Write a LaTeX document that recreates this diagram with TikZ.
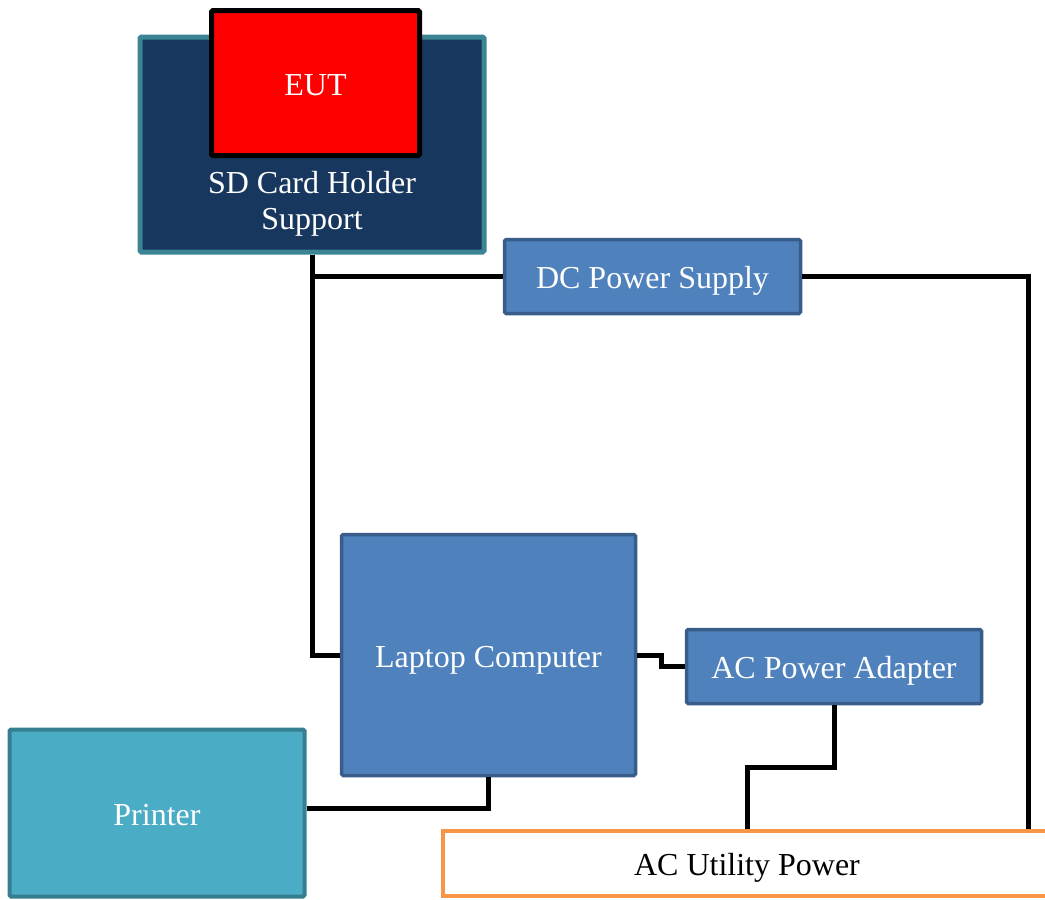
\documentclass[tikz,border=0pt]{standalone}
\usepackage{fontspec}
\setmainfont{Liberation Serif}
\definecolor{sdfill}{HTML}{17375E}
\definecolor{sdline}{HTML}{3B8494}
\definecolor{bluefill}{HTML}{4F81BD}
\definecolor{blueline}{HTML}{385D8A}
\definecolor{prfill}{HTML}{4BACC6}
\definecolor{prline}{HTML}{357F91}
\definecolor{orangeline}{HTML}{F79646}
\definecolor{eutred}{HTML}{FF0000}
\tikzset{
  boxbase/.style={rectangle, inner sep=0pt, rounded corners=1.5pt, font=\fontsize{32}{36}\selectfont, text=white, align=center, text height=27pt, text depth=3pt},
  bluebox/.style={boxbase, fill=bluefill, draw=blueline, line width=3.5pt},
  sdbox/.style={boxbase, fill=sdfill, draw=sdline, line width=5pt},
  eutbox/.style={boxbase, fill=eutred, draw=black, line width=5pt},
  prbox/.style={boxbase, fill=prfill, draw=prline, line width=4pt},
  acbox/.style={boxbase, rounded corners=0pt, fill=white, draw=orangeline, line width=4pt, text=black},
  wire/.style={draw=black, line width=5pt}
}
\begin{document}
\begin{tikzpicture}[x=1pt, y=-1pt]
\useasboundingbox (0,0) rectangle (1045,900);
\clip (0,0) rectangle (1045,900);
% boxes
\node[sdbox, minimum width=344pt, minimum height=215pt] (sd) at (312,144.5) {};
\node[font=\fontsize{32}{36}\selectfont, text=white, align=center, inner sep=0pt] (sdlabel) at (312,204) {SD Card Holder\\Support};
\node[eutbox, minimum width=208pt, minimum height=145pt] (eut) at (315.5,83) {EUT};
\node[bluebox, minimum width=296pt, minimum height=74pt] (dc) at (652.5,276.5) {DC Power Supply};
\node[bluebox, minimum width=294pt, minimum height=241pt] (lap) at (488.5,655) {Laptop Computer};
\node[bluebox, minimum width=295pt, minimum height=74pt] (ada) at (834,666.5) {AC Power Adapter};
\node[prbox, minimum width=295pt, minimum height=167pt] (pr) at (157,813) {Printer};
\node[acbox, minimum width=608pt, minimum height=65pt] (acu) at (747,863.5) {AC Utility Power};
% helper coordinates
\path (acu.north) ++(281,0) coordinate (acuR);
\coordinate (j) at (sd.south |- dc.west);
% connectors
\draw[wire] (sd.south) |- (lap.west);
\draw[wire] (j) -- (dc.west);
\draw[wire] (dc.east) -| (acuR);
\draw[wire] (lap.east) -- ++(24,0) |- (ada.west);
\draw[wire] (ada.south) -- ++(0,62) -| (acu.north);
\draw[wire] (lap.south) |- ([yshift=5pt]pr.east);
\end{tikzpicture}
\end{document}
